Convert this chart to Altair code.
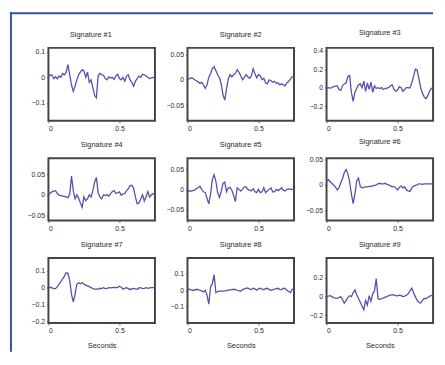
import altair as alt
import pandas as pd

# sample times (seconds)
times = [0.0, 0.0125, 0.025, 0.0375, 0.05, 0.0625, 0.075, 0.0875, 0.1, 0.1125,
         0.125, 0.1375, 0.15, 0.1625, 0.175, 0.1875, 0.2, 0.2125, 0.225, 0.2375,
         0.25, 0.2625, 0.275, 0.2875, 0.3, 0.3125, 0.325, 0.3375, 0.35, 0.3625,
         0.375, 0.3875, 0.4, 0.4125, 0.425, 0.4375, 0.45, 0.4625, 0.475, 0.4875,
         0.5, 0.5125, 0.525, 0.5375, 0.55, 0.5625, 0.575, 0.5875, 0.6, 0.6125,
         0.625, 0.6375, 0.65, 0.6625, 0.675, 0.6875, 0.7, 0.7125, 0.725, 0.7375,
         0.75]

sig1 = [0, 0.01, 0.008, -0.005, 0.002, -0.006, 0.005, 0.0, 0.015, 0.01,
        0.02, 0.05, 0.01, -0.03, -0.055, -0.035, -0.01, 0.01, 0.02, 0.03,
        0.025, 0.0, 0.02, -0.02, -0.01, -0.04, -0.07, -0.08, 0.005, 0.015,
        0.01, 0.008, -0.005, -0.01, 0.002, -0.003, 0.0, -0.008, 0.005, 0.012,
        -0.005, -0.01, 0.0, -0.015, 0.005, 0.01, -0.01, -0.02, -0.035, -0.015,
        -0.005, 0.005, 0.0, 0.012, 0.01, 0.005, 0.0, -0.005, -0.002, 0.0,
        -0.003]
sig2 = [0, 0.002, 0.004, 0.003, 0.0, -0.002, -0.004, -0.007, -0.005, -0.01,
        -0.017, -0.01, 0.005, 0.012, 0.022, 0.026, 0.018, 0.01, 0.004, -0.008,
        -0.03, -0.04, -0.018, 0.002, 0.01, 0.006, 0.01, 0.013, 0.02, 0.015,
        0.008, 0.0, 0.005, 0.01, 0.006, 0.003, 0.008, 0.022, 0.012, 0.004,
        0.01, 0.008, 0.0, 0.003, -0.006, -0.008, 0.0, -0.002, -0.005, -0.003,
        -0.007, -0.006, -0.01, -0.008, -0.01, -0.012, -0.006, -0.003, 0.002, 0.006,
        0.008]
sig3 = [-0.01, 0.0, -0.005, 0.0, 0.01, 0.015, 0.02, -0.02, -0.03, 0.02,
        0.04, 0.05, 0.12, 0.13, -0.05, -0.15, -0.05, -0.01, 0.03, 0.04,
        0.0, 0.07, -0.04, 0.05, -0.02, 0.06, -0.05, 0.02, -0.01, 0.0,
        -0.01, 0.0, -0.02, -0.01, -0.005, 0.0, 0.02, 0.03, -0.02, -0.04,
        -0.03, 0.01, 0.0, -0.04, -0.02, 0.0, 0.0, -0.005, 0.05, 0.12,
        0.2, 0.19, 0.1, 0.0, -0.06, -0.1, -0.12, -0.09, -0.04, -0.01,
        0.0]
sig4 = [0, 0.004, 0.007, 0.009, 0.01, 0.003, -0.001, -0.002, -0.003, -0.004,
        -0.005, -0.007, 0.002, 0.045, 0.01, -0.01, 0.0, -0.008, -0.02, -0.03,
        -0.005, -0.014, -0.01, 0.0, -0.005, 0.01, 0.03, 0.042, 0.005, -0.005,
        -0.01, 0.0, -0.002, 0.0, -0.003, 0.002, 0.008, 0.01, 0.003, 0.005,
        0.007, -0.001, 0.002, 0.003, 0.01, 0.015, 0.022, 0.023, 0.015, -0.005,
        -0.022, -0.02, -0.01, 0.0, -0.015, -0.005, 0.008, -0.005, 0.0, 0.003,
        0.0]
sig5 = [-0.004, -0.004, -0.004, -0.003, -0.002, 0.002, 0.004, 0.008, 0.0, -0.006,
        -0.008, -0.022, -0.036, -0.012, 0.025, 0.036, 0.02, -0.008, -0.02, -0.005,
        0.015, 0.018, -0.006, 0.004, 0.005, -0.002, -0.015, -0.03, 0.004, 0.0,
        -0.004, 0.0, 0.006, 0.006, 0.0, -0.002, -0.004, 0.002, -0.006, -0.008,
        0.0, -0.008, -0.006, 0.004, -0.008, -0.004, 0.0, 0.004, -0.006, -0.006,
        0.0, -0.003, 0.0, 0.004, -0.002, -0.004, 0.0, 0.001, 0.0, 0.0,
        0.0]
sig6 = [0.007, 0.01, 0.006, 0.003, -0.001, -0.004, -0.01, -0.006, 0.004, 0.012,
        0.024, 0.03, 0.022, 0.006, -0.018, -0.037, -0.018, 0.008, 0.013, -0.003,
        -0.006, -0.005, -0.004, -0.004, -0.003, -0.003, -0.002, -0.001, 0.0, 0.002,
        0.003, 0.002, 0.002, 0.003, 0.001, 0.0, -0.002, -0.004, -0.003, -0.006,
        -0.01, -0.005, -0.002, -0.006, -0.004, -0.01, -0.012, -0.013, -0.006, -0.003,
        -0.001, 0.0, 0.002, 0.002, 0.001, 0.002, 0.002, 0.002, 0.002, 0.002,
        0.002]
sig7 = [0, 0.002, -0.002, -0.006, -0.006, 0.006, 0.02, 0.035, 0.052, 0.068,
        0.088, 0.085, 0.04, -0.04, -0.085, -0.04, 0.02, 0.03, 0.022, 0.03,
        0.02, 0.015, 0.01, 0.006, 0.0, -0.005, -0.01, -0.008, -0.01, -0.004,
        -0.006, 0.0, -0.006, -0.004, 0.0, -0.002, 0.0, 0.002, 0.0, 0.0,
        0.008, 0.002, -0.008, -0.004, 0.0, -0.006, -0.012, -0.006, -0.004, -0.008,
        -0.01, -0.002, 0.0, -0.006, -0.004, 0.0, -0.004, -0.002, 0.0, 0.0,
        0.0]
sig8 = [0.004, 0.006, 0.002, 0.0, 0.0, 0.006, 0.004, 0.0, -0.004, -0.01,
        0.0, -0.03, -0.085, 0.02, 0.04, 0.095, -0.015, -0.008, -0.006, -0.006,
        -0.005, -0.004, -0.002, 0.0, 0.002, 0.004, 0.006, 0.004, 0.0, -0.004,
        -0.006, 0.004, 0.008, 0.012, 0.014, 0.006, 0.004, 0.012, 0.008, 0.0,
        0.008, 0.012, 0.006, 0.004, 0.01, 0.012, 0.004, 0.0, 0.004, 0.006,
        0.01, 0.012, 0.004, 0.004, 0.012, 0.01, 0.0, -0.008, -0.014, 0.006,
        0.008]
sig9 = [0.0, 0.005, 0.01, 0.0, -0.01, -0.015, -0.018, -0.01, 0.0, -0.03,
        -0.07, -0.04, -0.01, 0.01, 0.0, 0.04, 0.07, 0.02, -0.02, -0.06,
        -0.1, -0.14, -0.04, -0.09, 0.01, -0.05, 0.03, 0.06, 0.19, -0.02,
        -0.03, -0.02, -0.015, -0.005, 0.0, 0.01, 0.015, 0.02, 0.015, 0.01,
        0.008, 0.015, 0.01, 0.0, 0.005, 0.015, 0.03, 0.06, 0.09, 0.04,
        0.0, -0.04, -0.06, -0.07, -0.04, -0.02, -0.02, -0.01, 0.005, 0.01,
        0.02]

signals = [sig1, sig2, sig3, sig4, sig5, sig6, sig7, sig8, sig9]
titles = ["Signature #%d" % k for k in range(1, 10)]
y_domains = [[-0.17, 0.115], [-0.081, 0.063], [-0.36, 0.43],
             [-0.062, 0.088], [-0.077, 0.077], [-0.07, 0.052],
             [-0.21, 0.176], [-0.2, 0.197], [-0.28, 0.41]]
y_ticks = [[-0.1, 0, 0.1], [-0.05, 0, 0.05], [-0.2, 0, 0.2, 0.4],
           [-0.05, 0, 0.05], [-0.05, 0, 0.05], [-0.05, 0, 0.05],
           [-0.2, -0.1, 0, 0.1], [-0.1, 0, 0.1], [-0.2, 0, 0.2]]
x_ticks = [0, 0.5]
x_domain = [0, 0.75]
row_heights = [74, 63, 66]

FONT = "Liberation Sans"
LINE = "#5550b0"
BLUE = "#2f55a4"
TEXT = "#2a2a2a"


def panel(k):
    df = pd.DataFrame({"t": times, "v": signals[k]})
    last_row = k >= 6
    xaxis = alt.Axis(values=x_ticks, format="~g", grid=False, domain=False,
                     tickSize=2, labelPadding=2,
                     title="Seconds" if last_row else None,
                     titlePadding=8)
    yaxis = alt.Axis(values=y_ticks[k], format="~g", grid=False, domain=False,
                     tickSize=2, labelPadding=2, title=None)
    line = alt.Chart(df).mark_line(color=LINE, strokeWidth=1.3).encode(
        x=alt.X("t:Q", scale=alt.Scale(domain=x_domain, nice=False, zero=False), axis=xaxis),
        y=alt.Y("v:Q", scale=alt.Scale(domain=y_domains[k], nice=False, zero=False), axis=yaxis),
    )
    if k == 0:
        anchor = alt.Chart(pd.DataFrame({"a": [0]}))
        left = anchor.mark_rule(color=BLUE, strokeWidth=2).encode(
            x=alt.value(-38), y=alt.value(-36), y2=alt.value(308))
        top = anchor.mark_rule(color=BLUE, strokeWidth=2).encode(
            x=alt.value(-39), x2=alt.value(390), y=alt.value(-35))
        ch = alt.layer(line, left, top)
        title = alt.TitleParams(titles[k], fontSize=7.5, fontWeight="normal",
                                font=FONT, color=TEXT, offset=-27,
                                frame="group", dx=-11)
    else:
        ch = line
        title = alt.TitleParams(titles[k], fontSize=7.5, fontWeight="normal",
                                font=FONT, color=TEXT, offset=10)
    return ch.properties(width=108, height=row_heights[k // 3], title=title)


chart = alt.concat(*[panel(k) for k in range(9)], columns=3,
                   spacing={"row": 38, "column": 33},
                   bounds="flush", align="each").properties(
    padding=0, background="white"
).configure_view(
    stroke="#444444", strokeWidth=2
).configure_axis(
    labelFont=FONT, labelFontSize=7, labelColor=TEXT,
    titleFont=FONT, titleFontSize=7.5, titleFontWeight="normal", titleColor=TEXT,
    tickColor="#444", tickWidth=0.8
)

chart.save("out.html", embed_options={"renderer": "svg", "actions": False})
